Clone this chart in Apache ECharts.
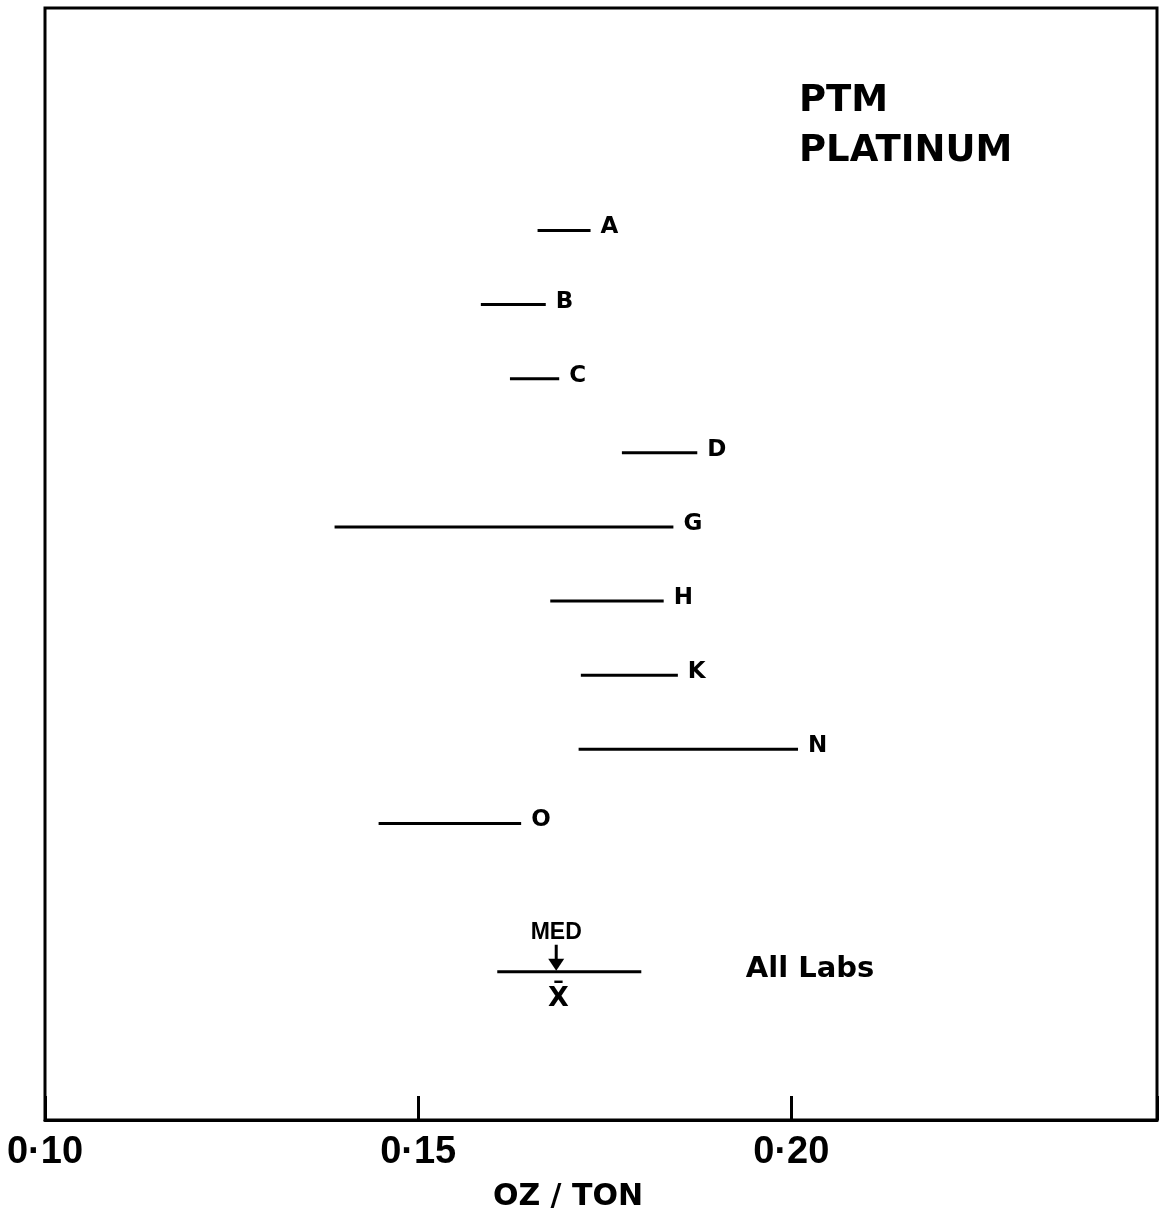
<!DOCTYPE html>
<html>
<head>
<meta charset="utf-8">
<script src="https://cdn.jsdelivr.net/npm/echarts@6/dist/echarts.min.js"></script>
<style>
html,body{margin:0;padding:0;background:#fff;}
#chart{width:1160px;height:1219px;}
</style>
</head>
<body>
<div id="chart"></div>
<script>
// ---- data ----
const labs  = ['A', 'B', 'C', 'D', 'G', 'H', 'K', 'N', 'O'];
const lows  = [0.1660, 0.1584, 0.1623, 0.1773, 0.1388, 0.1677, 0.1718, 0.1715, 0.1447];
const highs = [0.1731, 0.1671, 0.1689, 0.1874, 0.1842, 0.1829, 0.1848, 0.2009, 0.1638];
const rows  = [3, 4, 5, 6, 7, 8, 9, 10, 11];

const allLabsLabel = 'All Labs';
const allLow = 0.1606, allHigh = 0.1799, allRow = 13;
const allMedian = 0.1685, allMean = 0.1688;
const allLabelAt = 0.1939;

const tickValues = [0.10, 0.15, 0.20];
const tickLabels = ['0·10', '0·15', '0·20'];
const titleLines = ['PTM', 'PLATINUM'];
const axisName = 'OZ / TON';

const labData = labs.map((l, i) => [lows[i], highs[i], rows[i], l]);
const allData = [[allLow, allHigh, allRow, allMedian, allMean, allLabelAt]];

const chart = echarts.init(document.getElementById('chart'));
chart.setOption({
  backgroundColor: '#fff',
  animation: false,
  title: {
    text: titleLines.join('\n'),
    left: 794, top: 71,
    textStyle: { fontFamily: 'DejaVu Sans', fontWeight: 'bold', fontSize: 37, lineHeight: 50, color: '#000' }
  },
  grid: { left: 45, right: 2, top: 8, bottom: 99, show: true, borderColor: '#000', borderWidth: 3, backgroundColor: 'transparent' },
  xAxis: {
    type: 'value', min: 0.10, max: 0.249, interval: 0.05, position: 'bottom',
    axisLine: { onZero: false, lineStyle: { color: '#000', width: 3 } },
    axisTick: { inside: true, length: 24, lineStyle: { color: '#000', width: 3 } },
    splitLine: { show: false },
    axisLabel: {
      margin: 14, color: '#000', fontFamily: 'Liberation Sans', fontWeight: 'bold', fontSize: 38,
      formatter: function (v) {
        for (let i = 0; i < tickValues.length; i++) if (Math.abs(v - tickValues[i]) < 1e-6) return tickLabels[i];
        return '';
      }
    },
    name: axisName, nameLocation: 'middle', nameGap: 62,
    nameTextStyle: { color: '#000', fontFamily: 'DejaVu Sans', fontWeight: 'bold', fontSize: 30, padding: [0, 66, 0, 0] }
  },
  yAxis: {
    type: 'value', inverse: true, min: 0, max: 15,
    axisLine: { show: false }, axisTick: { show: false }, axisLabel: { show: false }, splitLine: { show: false }
  },
  series: [
    {
      type: 'custom',
      data: labData,
      renderItem: function (params, api) {
        const p0 = api.coord([api.value(0), api.value(2)]);
        const p1 = api.coord([api.value(1), api.value(2)]);
        return {
          type: 'group',
          children: [
            { type: 'line', shape: { x1: p0[0], y1: p0[1], x2: p1[0], y2: p1[1] }, style: { stroke: '#000', lineWidth: 3 } },
            { type: 'text', style: { text: labData[params.dataIndex][3], x: p1[0] + 10, y: p1[1] - 3, fill: '#000',
              fontFamily: 'DejaVu Sans', fontWeight: 'bold', fontSize: 23, align: 'left', verticalAlign: 'middle' } }
          ]
        };
      }
    },
    {
      type: 'custom',
      data: allData,
      renderItem: function (params, api) {
        const r = api.value(2);
        const p0 = api.coord([api.value(0), r]);
        const p1 = api.coord([api.value(1), r]);
        const pm = api.coord([api.value(3), r]);
        const px = api.coord([api.value(4), r]);
        const pl = api.coord([api.value(5), r]);
        return {
          type: 'group',
          children: [
            { type: 'line', shape: { x1: p0[0], y1: p0[1], x2: p1[0], y2: p1[1] }, style: { stroke: '#000', lineWidth: 3 } },
            { type: 'line', shape: { x1: pm[0], y1: pm[1] - 27, x2: pm[0], y2: pm[1] - 10 }, style: { stroke: '#000', lineWidth: 3 } },
            { type: 'polygon', shape: { points: [[pm[0] - 8, pm[1] - 13], [pm[0] + 8, pm[1] - 13], [pm[0], pm[1] - 1]] }, style: { fill: '#000' } },
            { type: 'text', style: { text: 'MED', x: pm[0], y: pm[1] - 39, fill: '#000', fontFamily: 'Liberation Sans', fontWeight: 'bold', fontSize: 23, align: 'center', verticalAlign: 'middle' } },
            { type: 'text', style: { text: 'X\u0304', x: px[0], y: px[1] + 27, fill: '#000', fontFamily: 'DejaVu Sans', fontWeight: 'bold', fontSize: 27, align: 'center', verticalAlign: 'middle' } },
            { type: 'text', style: { text: allLabsLabel, x: pl[0], y: pl[1] - 2, fill: '#000', fontFamily: 'DejaVu Sans', fontWeight: 'bold', fontSize: 29, align: 'left', verticalAlign: 'middle' } }
          ]
        };
      }
    }
  ]
});
</script>
</body>
</html>
